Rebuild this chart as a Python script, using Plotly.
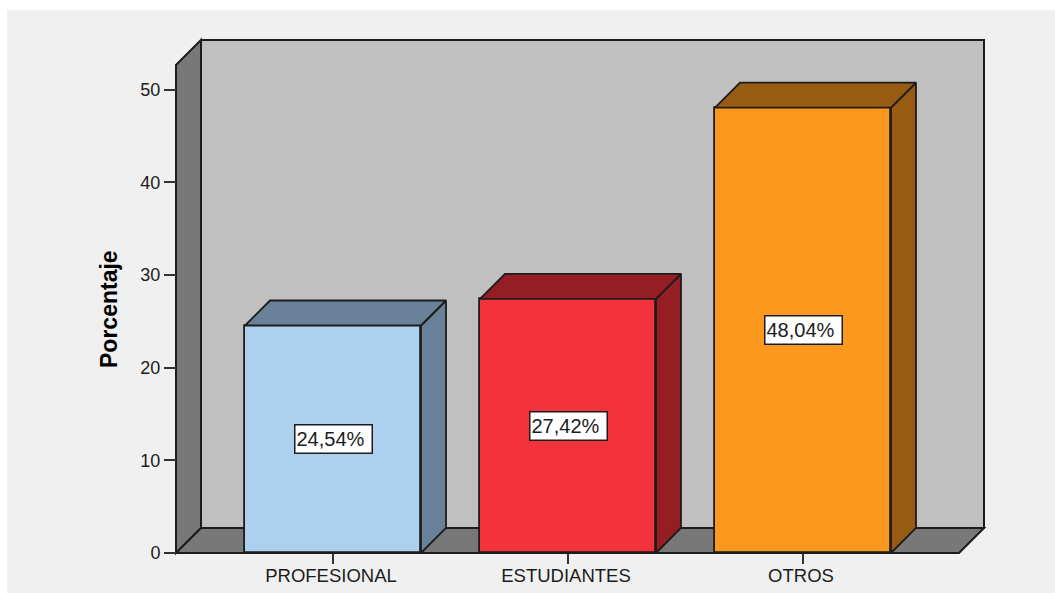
import plotly.graph_objects as go

categories = ["PROFESIONAL", "ESTUDIANTES", "OTROS"]
values = [24.54, 27.42, 48.04]
value_labels = ["24,54%", "27,42%", "48,04%"]
y_ticks = [0, 10, 20, 30, 40, 50]
front_colors = ["#acd0ee", "#f2333b", "#fc981e"]
shade_colors = ["#6a8299", "#951e24", "#985b12"]
y_title = "Porcentaje"

W, H = 1055, 593
PX_X = 235.0   # pixels per category step
PX_Y = 9.27    # pixels per percentage point
BASE = 553     # pixel row of the zero line
PAD = 3        # spare pixels round the walls so outlines are not clipped
BAR_W = 176 / PX_X
DX = 25 / PX_X      # depth of the box along x
DY = 25 / PX_Y      # depth of the box along y
WALL_L = (176 - 333) / PX_X
WALL_R = (959 - 333) / PX_X
WALL_TOP = (BASE - 65) / PX_Y
EDGE = "#1c1c1c"

ml, mr, mt, mb = 176 - PAD, W - 984 - PAD, 40 - PAD, H - BASE - PAD
plot_w, plot_h = W - ml - mr, H - mt - mb
x_range = [WALL_L - PAD / PX_X, WALL_R + DX + PAD / PX_X]
y_range = [-PAD / PX_Y, WALL_TOP + DY + PAD / PX_Y]


def poly(points):
    return "M" + " L".join(f"{x},{y}" for x, y in points) + " Z"


def wall(points, color):
    return dict(type="path", xref="x", yref="y", layer="below", path=poly(points),
                fillcolor=color, line=dict(color=EDGE, width=2))


shapes = [
    # white strips along the top and the left of the grey panel
    dict(type="rect", xref="paper", yref="paper", layer="below",
         x0=-ml / plot_w - 0.1, x1=(7 - ml) / plot_w, y0=-0.2, y1=1.2,
         fillcolor="#ffffff", line=dict(width=0)),
    dict(type="rect", xref="paper", yref="paper", layer="below",
         x0=-0.3, x1=1.2, y0=(H - 10 - mb) / plot_h, y1=1.2,
         fillcolor="#ffffff", line=dict(width=0)),
    wall([(WALL_L + DX, DY), (WALL_L + DX, WALL_TOP + DY), (WALL_R + DX, WALL_TOP + DY), (WALL_R + DX, DY)], "#c0c0c0"),
    wall([(WALL_L, 0), (WALL_L, WALL_TOP), (WALL_L + DX, WALL_TOP + DY), (WALL_L + DX, DY)], "#787878"),
    wall([(WALL_L, 0), (WALL_R, 0), (WALL_R + DX, DY), (WALL_L + DX, DY)], "#787878"),
]

fig = go.Figure()
positions = list(range(len(categories)))

fig.add_trace(go.Bar(
    x=positions, y=values, width=BAR_W, marker=dict(color=front_colors, line=dict(color=EDGE, width=1.8)),
    showlegend=False, hoverinfo="skip",
))

for pos, val, shade in zip(positions, values, shade_colors):
    left, right = pos - BAR_W / 2, pos + BAR_W / 2
    top_face_x = [left, right, right + DX, left + DX, left]
    top_face_y = [val, val, val + DY, val + DY, val]
    side_face_x = [right, right + DX, right + DX, right, right]
    side_face_y = [0, DY, val + DY, val, 0]
    for fx, fy in ((side_face_x, side_face_y), (top_face_x, top_face_y)):
        fig.add_trace(go.Scatter(
            x=fx, y=fy, mode="lines", fill="toself", fillcolor=shade,
            line=dict(color=EDGE, width=1.8), showlegend=False, hoverinfo="skip",
        ))

annotations = [
    dict(x=pos, y=val / 2, text=label, showarrow=False, xref="x", yref="y",
         font=dict(family="Liberation Sans", size=20, color="#1c1c1c"), align="left",
         bgcolor="#ffffff", bordercolor=EDGE, borderwidth=1.5, width=74, height=25)
    for pos, val, label in zip(positions, values, value_labels)
]
annotations.append(dict(
    xref="paper", yref="paper", x=(109 - ml) / plot_w, y=(H - 309 - mb) / plot_h,
    xanchor="center", yanchor="middle",
    text=f"<b>{y_title}</b>", textangle=-90, showarrow=False,
    font=dict(family="Liberation Sans", size=23, color="#000000"),
))

fig.update_layout(
    width=W, height=H,
    margin=dict(l=ml, r=mr, t=mt, b=mb, pad=0, autoexpand=False),
    paper_bgcolor="#f0f0f0", plot_bgcolor="rgba(0,0,0,0)",
    shapes=shapes, annotations=annotations, bargap=0,
    font=dict(family="Liberation Sans", color="#1c1c1c"),
    xaxis=dict(
        range=x_range, tickmode="array", tickvals=positions, ticktext=categories,
        showgrid=False, zeroline=False, showline=False, anchor="free", position=PAD / plot_h,
        ticks="outside", ticklen=10, tickwidth=1.5, tickcolor="#333333",
        tickfont=dict(size=18.5, color="#1c1c1c"), ticklabelstandoff=-4, ticklabelshift=-2,
    ),
    yaxis=dict(
        range=y_range, tickmode="array", tickvals=y_ticks,
        showgrid=False, zeroline=False, showline=False, anchor="free", position=PAD / plot_w,
        ticks="outside", ticklen=12, tickwidth=1.5, tickcolor="#333333",
        tickfont=dict(size=18, color="#1c1c1c"),
    ),
)

fig.write_html("out.html", config=dict(displayModeBar=False),
               post_script="document.body.style.margin='0';document.body.style.background='#f0f0f0';document.documentElement.style.overflow='hidden';")
